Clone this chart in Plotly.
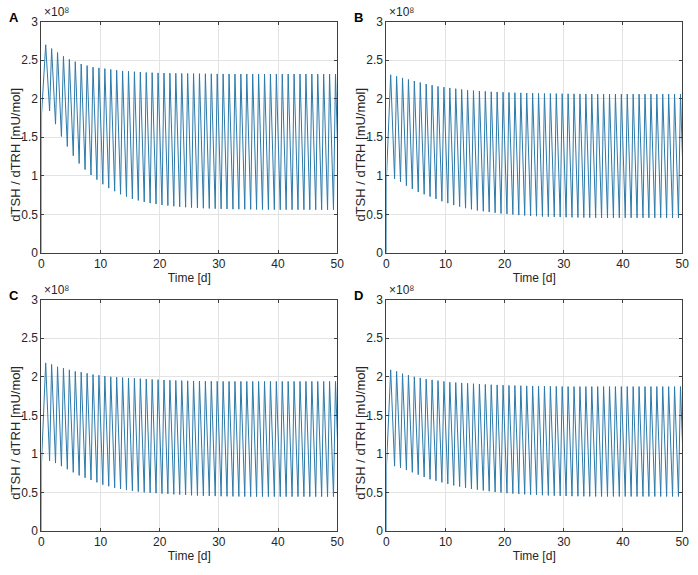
import plotly.graph_objects as go

# ---------------- data (values in units of 1e8 mU/mol) ----------------
days = list(range(50))
peak_phase = 0.72      # day fraction of daily maximum
trough_phase = 1.38    # day fraction of following minimum

a_start = [0.0, 1.80]
a_peaks = [2.70, 2.65, 2.60, 2.55, 2.51, 2.48, 2.45, 2.43, 2.41, 2.40,
           2.39, 2.38, 2.37, 2.36, 2.355, 2.35, 2.345, 2.34, 2.338, 2.335,
           2.333, 2.331, 2.33, 2.328, 2.327, 2.326, 2.325, 2.324, 2.323, 2.322,
           2.321, 2.321, 2.32, 2.32, 2.32, 2.32, 2.32, 2.32, 2.32, 2.32,
           2.32, 2.32, 2.32, 2.32, 2.32, 2.32, 2.32, 2.32, 2.32, 2.32]
a_troughs = [1.84, 1.67, 1.51, 1.38, 1.26, 1.16, 1.08, 1.01, 0.95, 0.89,
             0.84, 0.80, 0.76, 0.73, 0.70, 0.68, 0.66, 0.645, 0.633, 0.622,
             0.613, 0.605, 0.598, 0.592, 0.587, 0.583, 0.579, 0.576, 0.573, 0.571,
             0.569, 0.567, 0.566, 0.565, 0.564, 0.563, 0.562, 0.561, 0.561, 0.56,
             0.56, 0.56, 0.56, 0.56, 0.56, 0.56, 0.56, 0.56, 0.56, 0.56]

b_start = [0.0, 1.00]
b_peaks = [2.31, 2.29, 2.27, 2.25, 2.23, 2.21, 2.19, 2.175, 2.16, 2.15,
           2.14, 2.13, 2.12, 2.11, 2.105, 2.10, 2.095, 2.09, 2.087, 2.084,
           2.081, 2.078, 2.076, 2.074, 2.072, 2.07, 2.068, 2.067, 2.066, 2.065,
           2.064, 2.063, 2.062, 2.062, 2.061, 2.061, 2.06, 2.06, 2.06, 2.06,
           2.06, 2.06, 2.06, 2.06, 2.06, 2.06, 2.06, 2.06, 2.06, 2.06]
b_troughs = [0.96, 0.92, 0.87, 0.83, 0.79, 0.76, 0.73, 0.70, 0.67, 0.645,
             0.62, 0.60, 0.58, 0.565, 0.55, 0.54, 0.53, 0.52, 0.51, 0.505,
             0.498, 0.49, 0.485, 0.48, 0.476, 0.472, 0.469, 0.466, 0.464, 0.462,
             0.46, 0.459, 0.458, 0.457, 0.456, 0.455, 0.455, 0.455, 0.455, 0.455,
             0.455, 0.455, 0.455, 0.455, 0.455, 0.455, 0.455, 0.455, 0.455, 0.455]

c_start = [0.0, 0.90]
c_peaks = [2.18, 2.16, 2.13, 2.11, 2.09, 2.07, 2.06, 2.045, 2.03, 2.02,
           2.01, 2.00, 1.995, 1.99, 1.985, 1.98, 1.975, 1.97, 1.966, 1.962,
           1.958, 1.955, 1.952, 1.95, 1.948, 1.946, 1.944, 1.943, 1.942, 1.941,
           1.94, 1.94, 1.94, 1.94, 1.94, 1.94, 1.94, 1.94, 1.94, 1.94,
           1.94, 1.94, 1.94, 1.94, 1.94, 1.94, 1.94, 1.94, 1.94, 1.94]
c_troughs = [0.91, 0.88, 0.84, 0.80, 0.76, 0.72, 0.69, 0.66, 0.63, 0.60,
             0.58, 0.56, 0.545, 0.53, 0.52, 0.51, 0.50, 0.495, 0.49, 0.485,
             0.48, 0.475, 0.47, 0.466, 0.462, 0.459, 0.456, 0.454, 0.452, 0.45,
             0.449, 0.448, 0.447, 0.446, 0.445, 0.445, 0.445, 0.445, 0.445, 0.445,
             0.445, 0.445, 0.445, 0.445, 0.445, 0.445, 0.445, 0.445, 0.445, 0.445]

d_start = [0.0, 0.85]
d_peaks = [2.09, 2.07, 2.04, 2.02, 2.00, 1.985, 1.97, 1.96, 1.95, 1.94,
           1.93, 1.925, 1.92, 1.915, 1.91, 1.905, 1.90, 1.897, 1.894, 1.891,
           1.888, 1.886, 1.884, 1.882, 1.88, 1.878, 1.877, 1.876, 1.875, 1.874,
           1.873, 1.873, 1.873, 1.873, 1.873, 1.873, 1.873, 1.873, 1.873, 1.873,
           1.873, 1.873, 1.873, 1.873, 1.873, 1.873, 1.873, 1.873, 1.873, 1.873]
d_troughs = [0.84, 0.82, 0.79, 0.76, 0.73, 0.70, 0.67, 0.65, 0.63, 0.61,
             0.59, 0.575, 0.56, 0.545, 0.535, 0.525, 0.515, 0.505, 0.498, 0.49,
             0.485, 0.48, 0.475, 0.47, 0.466, 0.463, 0.46, 0.457, 0.455, 0.453,
             0.451, 0.45, 0.449, 0.448, 0.447, 0.447, 0.447, 0.447, 0.447, 0.447,
             0.447, 0.447, 0.447, 0.447, 0.447, 0.447, 0.447, 0.447, 0.447, 0.447]

panel_labels = ["A", "B", "C", "D"]
x_ticks = [0, 10, 20, 30, 40, 50]
y_ticks = [0, 0.5, 1, 1.5, 2, 2.5, 3]
y_tick_text = ["0", "0.5", "1", "1.5", "2", "2.5", "3"]
x_title = "Time [d]"
y_title = "dTSH / dTRH [mU/mol]"
exp_label = "×10⁸"

panels = [(a_start, a_peaks, a_troughs), (b_start, b_peaks, b_troughs),
          (c_start, c_peaks, c_troughs), (d_start, d_peaks, d_troughs)]

# ---------------- layout geometry ----------------
W, H = 698, 575
FONT = "Liberation Sans, Arial, Helvetica, sans-serif"
TXT = "#262626"
LINE = "#2c7aab"

# plot boxes in pixels (left, right, top, bottom)
boxes = [(39, 339, 15, 252), (389, 689, 15, 252),
         (39, 339, 300, 537), (389, 689, 300, 537)]


def series(start, peaks, troughs):
    t = [0.0, 0.02]
    v = list(start)
    for k in days:
        t.append(k + peak_phase)
        v.append(peaks[k])
        t.append(k + trough_phase)
        v.append(troughs[k])
    return t, v


fig = go.Figure()
annotations = []
layout = {}
for i, ((start, peaks, troughs), (l, r, tp, bt)) in enumerate(zip(panels, boxes)):
    n = "" if i == 0 else str(i + 1)
    t, v = series(start, peaks, troughs)
    fig.add_trace(go.Scatter(x=t, y=v, mode="lines",
                             line=dict(color=LINE, width=1),
                             xaxis="x" + n, yaxis="y" + n, showlegend=False,
                             hoverinfo="skip"))
    xd = [l / W, r / W]
    yd = [1 - bt / H, 1 - tp / H]
    common = dict(showline=True, linecolor="#404040", linewidth=1, mirror="ticks",
                  ticks="inside", ticklen=3, tickcolor="#404040",
                  showgrid=True, gridcolor="#e3e3e3", gridwidth=1,
                  zeroline=False, tickfont=dict(family=FONT, size=12, color=TXT))
    layout["xaxis" + n] = dict(domain=xd, anchor="y" + n, range=[0, 50],
                               tickvals=x_ticks,
                               title=dict(text=x_title, standoff=3,
                                          font=dict(family=FONT, size=12, color=TXT)),
                               **common)
    layout["yaxis" + n] = dict(domain=yd, anchor="x" + n, range=[0, 3],
                               tickvals=y_ticks, ticktext=y_tick_text,
                               **common)
    # y axis title (sits slightly below the axis centre, as in the reference)
    annotations.append(dict(x=13 / W + (l - 39) / W, y=1 - ((tp + bt) / 2 + 18) / H,
                            xref="paper", yref="paper",
                            text=y_title, showarrow=False, textangle=-90,
                            xanchor="center", yanchor="middle",
                            font=dict(family=FONT, size=13, color=TXT)))
    # exponent label
    annotations.append(dict(x=(l + 1) / W, y=1 - (tp - 1) / H, xref="paper", yref="paper",
                            text=exp_label, showarrow=False, xanchor="left", yanchor="bottom",
                            font=dict(family=FONT, size=12, color=TXT)))
    # panel letter
    annotations.append(dict(x=(l - 28) / W, y=1 - (tp - 4) / H, xref="paper", yref="paper",
                            text=panel_labels[i], showarrow=False,
                            xanchor="center", yanchor="middle",
                            font=dict(family=FONT, size=13, color="#000000", weight="bold")))

fig.update_layout(width=W, height=H, margin=dict(l=0, r=0, t=0, b=0),
                  paper_bgcolor="white", plot_bgcolor="white",
                  annotations=annotations, **layout)

fig.write_html("out.html", config={"displayModeBar": False},
               post_script="document.body.style.margin='0';")
